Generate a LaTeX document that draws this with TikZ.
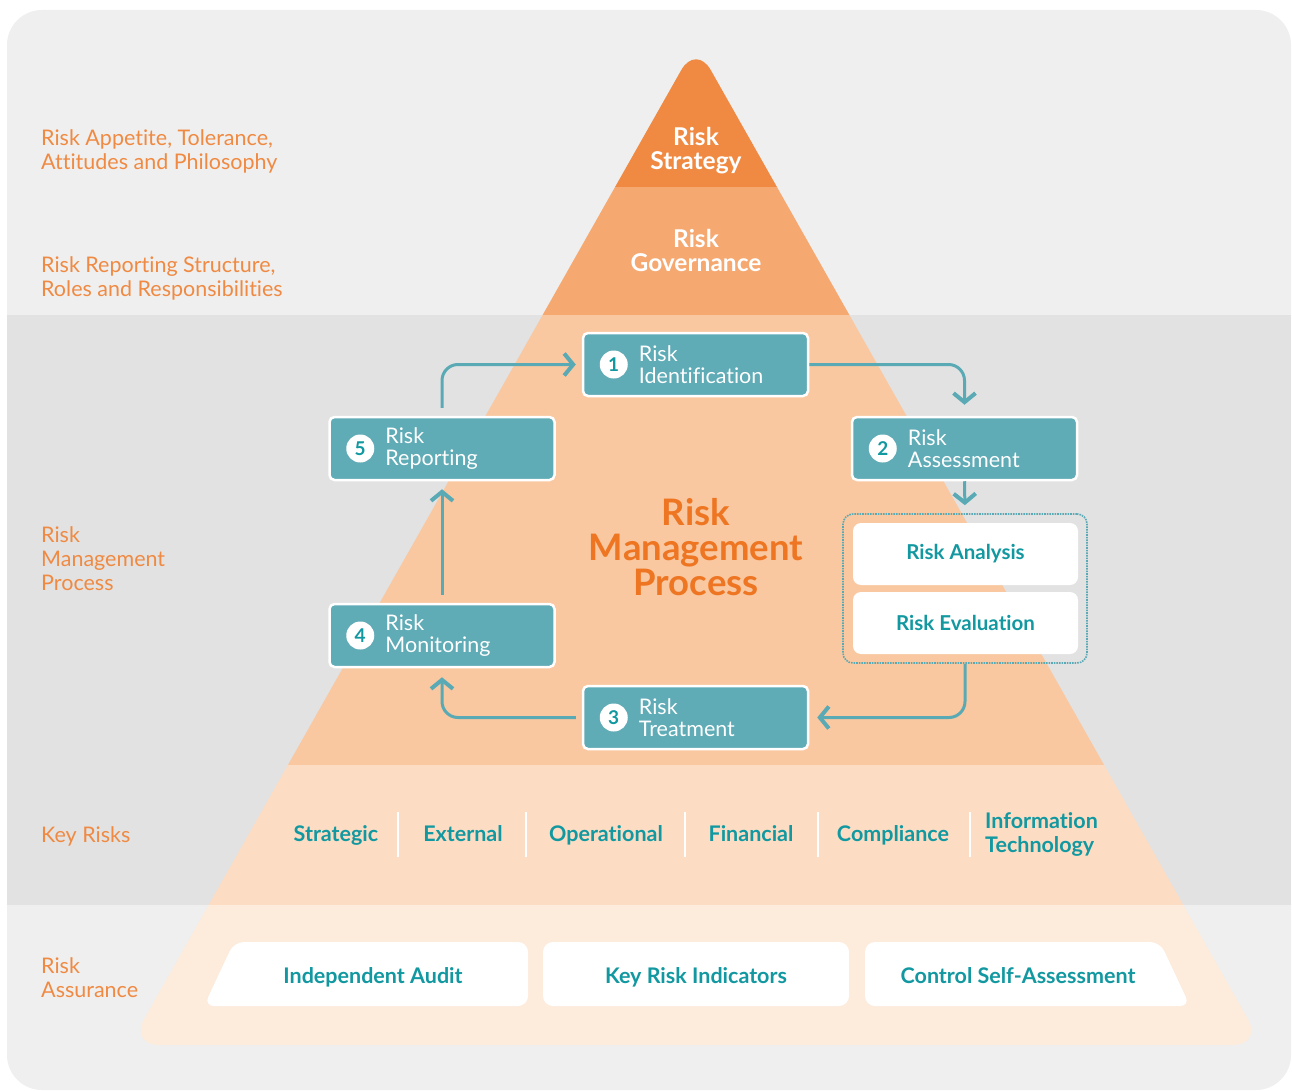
\documentclass[tikz,border=0pt]{standalone}
\usepackage{fontspec}
\setmainfont{Lato}[Ligatures=NoCommon]
\usetikzlibrary{arrows.meta,positioning,calc}

\begin{document}
\begin{tikzpicture}[x=1pt,y=-1pt,
  stepbox/.style={draw=white, line width=2.5pt, fill=tealbox, rounded corners=5pt,
    minimum width=225pt, minimum height=63pt, inner sep=0pt},
  numdot/.style={circle, fill=white, inner sep=0pt, minimum size=28pt, text=tealtext,
    font=\bfseries\fontsize{19}{19}\selectfont},
  steplabel/.style={text=white, align=left, anchor=west, inner sep=0pt,
    font=\fontsize{21.5}{21.5}\selectfont},
  flow/.style={draw=tealline, line width=3pt, rounded corners=16pt,
    -{Straight Barb[length=9pt,width=22pt,line width=4pt]}},
  sidelabel/.style={text=sideorange, align=left, anchor=west, inner sep=0pt,
    font=\fontsize{21.5}{24}\selectfont},
  risklabel/.style={text=tealtext, inner sep=0pt, font=\bfseries\fontsize{21.5}{24}\selectfont},
  subbox/.style={fill=white, rounded corners=8pt, minimum width=225pt, minimum height=62pt,
    text=tealtext, font=\bfseries\fontsize{20.5}{22}\selectfont},
  layertext/.style={text=white, align=center, font=\bfseries\fontsize{24.5}{24}\selectfont},
]

% Colors
\definecolor{bggray}{RGB}{239,239,239}
\definecolor{bandgray}{RGB}{226,226,226}
\definecolor{layerA}{RGB}{240,138,66}
\definecolor{layerB}{RGB}{246,168,113}
\definecolor{layerC}{RGB}{249,200,160}
\definecolor{layerD}{RGB}{252,221,195}
\definecolor{layerE}{RGB}{253,235,220}
\definecolor{tealbox}{RGB}{95,171,182}
\definecolor{tealline}{RGB}{90,170,181}
\definecolor{tealtext}{RGB}{18,152,160}
\definecolor{sideorange}{RGB}{240,138,66}
\definecolor{titleorange}{RGB}{238,118,35}

% Parameters
\def\cx{696}
\def\apexY{44}
\def\sl{0.57}
\def\baseY{1045}

\useasboundingbox (0,0) rectangle (1292,1091);

% Background panel and middle band
\fill[bggray, rounded corners=35pt] (7,10) rectangle (1291,1090);
\fill[bandgray] (7,315) rectangle (1291,905);

% Pyramid layers
\begin{scope}
  \clip[rounded corners=30pt] (\cx,\apexY) -- ({\cx+\sl*(\baseY-\apexY)-4},\baseY)
    -- ({\cx-\sl*(\baseY-\apexY)+4},\baseY) -- cycle;
  \fill[layerA] (0,0) rectangle (1292,187);
  \fill[layerB] (0,187) rectangle (1292,315);
  \fill[layerC] (0,315) rectangle (1292,765);
  \fill[layerD] (0,765) rectangle (1292,905);
  \fill[layerE] (0,905) rectangle (1292,1091);
\end{scope}

\node[layertext] (strategy) at (\cx,151) {Risk\\Strategy};
\node[layertext] (governance) at (\cx,250) {Risk\\Governance};
\node[text=titleorange, align=center, font=\bfseries\fontsize{36.5}{35}\selectfont]
  (title) at (\cx,547) {Risk\\Management\\Process};

% Side labels
\node[sidelabel] (appetite) at (41,151) {Risk Appetite, Tolerance,\\Attitudes and Philosophy};
\node[sidelabel] (structure) at (41,278) {Risk Reporting Structure,\\Roles and Responsibilities};
\node[sidelabel] (process) at (41,559) {Risk\\Management\\Process};
\node[sidelabel] (keyrisks) at (41,836) {Key Risks};
\node[sidelabel] (assurance) at (41,978) {Risk\\Assurance};

% Process steps
\foreach \name/\x/\y/\num/\txt in {ident/695.5/364.5/1/Identification,
    assess/964.5/448.5/2/Assessment, treat/695.5/717.5/3/Treatment,
    monit/442/635.5/4/Monitoring, rep/442/448.5/5/Reporting} {
  \node[stepbox] (\name) at (\x,\y) {};
  \node[numdot] (\name-num) at ([xshift=32pt]\name.west) {\num};
  \node[steplabel] (\name-txt) at ([xshift=57pt]\name.west) {Risk\\\txt};
}

% Assessment parts
\node[subbox] (analysis) at (965.5,554) {Risk Analysis};
\node[subbox] (evaluation) at (965.5,623) {Risk Evaluation};
\node[draw=tealline, densely dotted, line width=1.6pt, rounded corners=10pt,
  minimum width=244pt, minimum height=149pt] (group) at (965,588.5) {};

% Flow arrows
\draw[flow, shorten <=8pt, shorten >=6pt] (rep.north) |- (ident.west);
\draw[flow, shorten >=11pt] (ident.east) -| (assess.north);
\draw[flow, shorten >=8pt] (assess.south) -- (group.north);
\draw[flow, shorten >=8pt] (group.south) |- (treat.east);
\draw[flow, shorten <=6pt, shorten >=9pt] (treat.west) -| (monit.south);
\draw[flow, shorten <=8pt, shorten >=8pt] (monit.north) -- (rep.south);

% Key risks
\foreach \name/\x/\txt in {strat/336/Strategic, ext/463/External, oper/606/Operational,
    fin/751/Financial, comp/893/Compliance}
  \node[risklabel, anchor=base] (\name) at (\x,841) {\txt};
\node[risklabel, anchor=west, align=left] (infotech) at (985,834) {Information\\Technology};
\foreach \x in {398,526,685,818,970}
  \draw[white, line width=2pt] (\x,812) -- (\x,857);

% Assurance
\fill[white, rounded corners=10pt] (528,942) -- (528,1006) -- (204,1006) -- (234,942) -- cycle;
\node[risklabel, anchor=base] (audit) at (373,983) {Independent Audit};
\node[fill=white, rounded corners=10pt, minimum width=306pt, minimum height=64pt]
  (kri) at (696,974) {};
\node[risklabel, anchor=base] (kri-txt) at (696,983) {Key Risk Indicators};
\fill[white, rounded corners=10pt] (865,942) -- (1160,942) -- (1190,1006) -- (865,1006) -- cycle;
\node[risklabel, anchor=base] (csa) at (1018,983) {Control Self-Assessment};
\end{tikzpicture}
\end{document}
